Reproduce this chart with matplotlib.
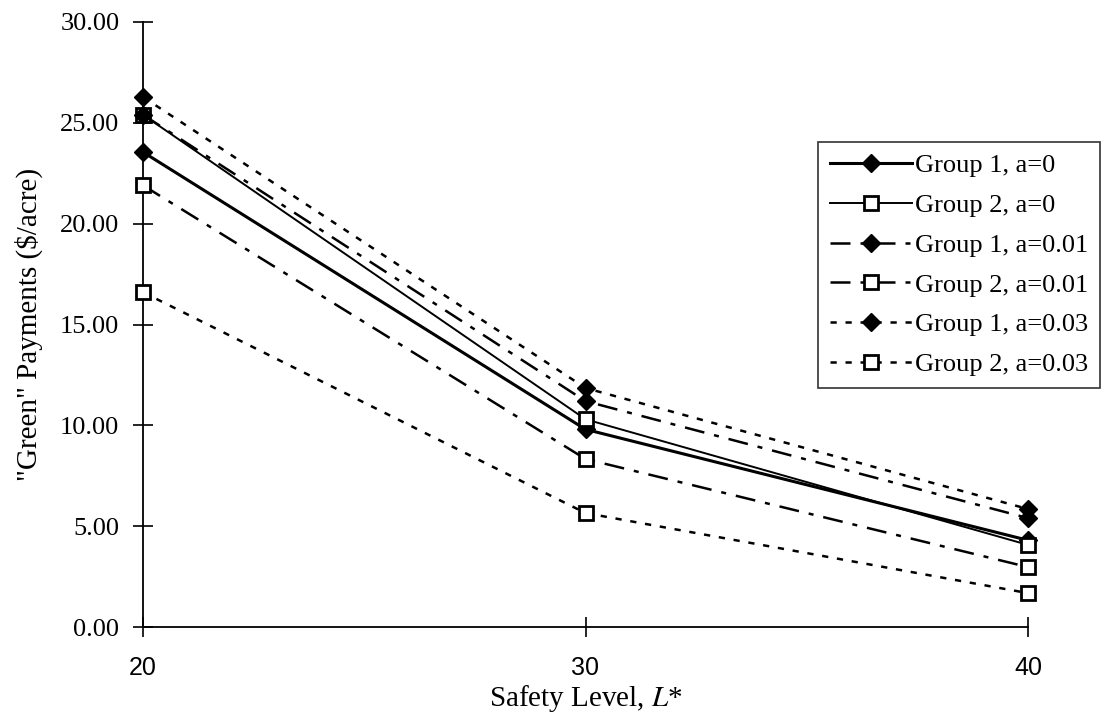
import matplotlib
matplotlib.use('Agg')
import matplotlib.pyplot as plt

safety = [20, 30, 40]
g1_a0 = [23.55, 9.8, 4.3]
g2_a0 = [25.40, 10.30, 4.07]
g1_a001 = [25.40, 11.20, 5.40]
g2_a001 = [21.90, 8.33, 2.97]
g1_a003 = [26.28, 11.85, 5.85]
g2_a003 = [16.60, 5.65, 1.68]

labels = ['Group 1, a=0', 'Group 2, a=0', 'Group 1, a=0.01',
          'Group 2, a=0.01', 'Group 1, a=0.03', 'Group 2, a=0.03']
yticks = [0, 5, 10, 15, 20, 25, 30]

serif = ['Liberation Serif', 'DejaVu Serif']
plt.rcParams['mathtext.fontset'] = 'stix'

fig = plt.figure(figsize=(11.08, 7.17), dpi=100)
ax = fig.add_axes([143/1108, 1 - 627/717, 885/1108, 605/717])

dashdot = (0, (8, 4, 2, 4))
dotted = (0, (2.5, 3.5))
sq = dict(marker='s', markersize=10, markerfacecolor='white',
          markeredgecolor='black', markeredgewidth=2)
dm = dict(marker='D', markersize=9, markerfacecolor='black',
          markeredgecolor='black')

ax.plot(safety, g1_a0, color='black', lw=2.2, ls='-', label=labels[0], **dm)
ax.plot(safety, g2_a0, color='black', lw=1.4, ls='-', label=labels[1], **sq)
ax.plot(safety, g1_a001, color='black', lw=1.8, ls=dashdot, label=labels[2], **dm)
ax.plot(safety, g2_a001, color='black', lw=1.8, ls=dashdot, label=labels[3], **sq)
ax.plot(safety, g1_a003, color='black', lw=1.8, ls=dotted, label=labels[4], **dm)
ax.plot(safety, g2_a003, color='black', lw=1.8, ls=dotted, label=labels[5], **sq)

ax.set_xlim(20, 40)
ax.set_ylim(0, 30)
ax.set_xticks(safety)
ax.set_yticks(yticks)
ax.set_yticklabels([f'{v:.2f}' for v in yticks], family=serif, fontsize=19)
ax.set_xticklabels([str(v) for v in safety], family=['Liberation Sans', 'DejaVu Sans'], fontsize=18)
ax.tick_params(axis='both', direction='inout', length=14, width=1.2, color='black')
ax.tick_params(axis='x', pad=14)
ax.tick_params(axis='y', pad=10)
for sp in ['top', 'right']:
    ax.spines[sp].set_visible(False)
for sp in ['left', 'bottom']:
    ax.spines[sp].set_linewidth(1.3)
    ax.spines[sp].set_zorder(0)
for ln in ax.lines:
    ln.set_clip_on(False)

ax.set_ylabel('"Green" Payments ($/acre)', family=serif, fontsize=21, labelpad=12)
ax.set_xlabel('Safety Level, $\\mathit{L}$*', family=serif, fontsize=21, labelpad=2)

leg = ax.legend(loc='upper left', bbox_to_anchor=(0.763, 0.802), frameon=True,
                fancybox=False, edgecolor='black', handlelength=3.1,
                handletextpad=0.1, labelspacing=0.62, borderpad=0.45,
                borderaxespad=0, prop={'family': serif, 'size': 19})
leg.get_frame().set_linewidth(1.2)

fig.savefig('out.png', dpi=100)
